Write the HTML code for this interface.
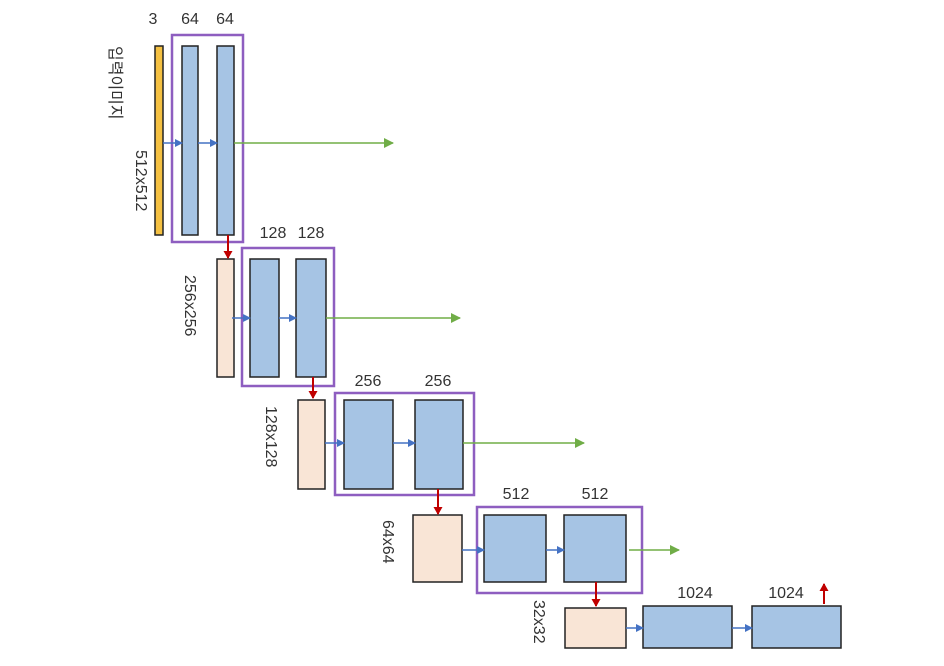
<!DOCTYPE html>
<html><head><meta charset="utf-8"><style>
html,body{margin:0;padding:0;background:#fff;width:944px;height:666px;overflow:hidden}
text{font-family:"Liberation Sans","Noto Sans CJK KR",sans-serif;font-size:16px;fill:#333}
</style></head><body>
<svg width="944" height="666" viewBox="0 0 944 666" xmlns="http://www.w3.org/2000/svg">
<defs>
<marker id="ab" markerWidth="8" markerHeight="8" refX="7" refY="4" orient="auto" markerUnits="userSpaceOnUse"><path d="M0,0L8,4L0,8z" fill="#4472c4"/></marker>
<marker id="ag" markerWidth="10" markerHeight="10" refX="9" refY="5" orient="auto" markerUnits="userSpaceOnUse"><path d="M0,0L10,5L0,10z" fill="#70ad47"/></marker>
<marker id="ar" markerWidth="8" markerHeight="9" refX="7" refY="4.5" orient="auto" markerUnits="userSpaceOnUse"><path d="M0,0L8,4.5L0,9z" fill="#c00000"/></marker>
</defs>
<g stroke="#222" stroke-width="1.5">
<rect x="155" y="46" width="8" height="189" fill="#f4c042"/>
<rect x="182" y="46" width="16" height="189" fill="#a6c4e4"/>
<rect x="217" y="46" width="17" height="189" fill="#a6c4e4"/>
<rect x="217" y="259" width="17" height="118" fill="#f9e5d6"/>
<rect x="250" y="259" width="29" height="118" fill="#a6c4e4"/>
<rect x="296" y="259" width="30" height="118" fill="#a6c4e4"/>
<rect x="298" y="400" width="27" height="89" fill="#f9e5d6"/>
<rect x="344" y="400" width="49" height="89" fill="#a6c4e4"/>
<rect x="415" y="400" width="48" height="89" fill="#a6c4e4"/>
<rect x="413" y="515" width="49" height="67" fill="#f9e5d6"/>
<rect x="484" y="515" width="62" height="67" fill="#a6c4e4"/>
<rect x="564" y="515" width="62" height="67" fill="#a6c4e4"/>
<rect x="565" y="608" width="61" height="40" fill="#f9e5d6"/>
<rect x="643" y="606" width="89" height="42" fill="#a6c4e4"/>
<rect x="752" y="606" width="89" height="42" fill="#a6c4e4"/>
</g>
<g fill="none" stroke="#8e5ec0" stroke-width="2.5">
<rect x="172" y="35" width="71" height="207"/>
<rect x="242" y="248" width="92" height="138"/>
<rect x="335" y="393" width="139" height="102"/>
<rect x="477" y="507" width="165" height="86"/>
</g>
<g stroke="#4472c4" stroke-width="1.5" marker-end="url(#ab)">
<line x1="163" y1="143" x2="182" y2="143"/>
<line x1="198" y1="143" x2="217" y2="143"/>
<line x1="232" y1="318" x2="250" y2="318"/>
<line x1="279" y1="318" x2="296" y2="318"/>
<line x1="325" y1="443" x2="344" y2="443"/>
<line x1="393" y1="443" x2="415" y2="443"/>
<line x1="462" y1="550" x2="484" y2="550"/>
<line x1="546" y1="550" x2="564" y2="550"/>
<line x1="626" y1="628" x2="643" y2="628"/>
<line x1="732" y1="628" x2="752" y2="628"/>
</g>
<g stroke="#70ad47" stroke-width="1.5" marker-end="url(#ag)">
<line x1="234" y1="143" x2="393" y2="143"/>
<line x1="326" y1="318" x2="460" y2="318"/>
<line x1="463" y1="443" x2="584" y2="443"/>
<line x1="629" y1="550" x2="679" y2="550"/>
</g>
<g stroke="#c00000" stroke-width="2" marker-end="url(#ar)">
<line x1="228" y1="235" x2="228" y2="258"/>
<line x1="313" y1="377" x2="313" y2="398"/>
<line x1="438" y1="489" x2="438" y2="514"/>
<line x1="596" y1="582" x2="596" y2="606"/>
<line x1="824" y1="604" x2="824" y2="584"/>
</g>
<g text-anchor="middle">
<text x="153" y="24">3</text>
<text x="190" y="24">64</text>
<text x="225" y="24">64</text>
<text x="273" y="238">128</text>
<text x="311" y="238">128</text>
<text x="368" y="386">256</text>
<text x="438" y="386">256</text>
<text x="516" y="499">512</text>
<text x="595" y="499">512</text>
<text x="695" y="598">1024</text>
<text x="786" y="598">1024</text>
</g>
<g text-anchor="start">
<text transform="translate(110,46) rotate(90)">입력이미지</text>
<text transform="translate(136,150) rotate(90)">512x512</text>
<text transform="translate(185,275) rotate(90)">256x256</text>
<text transform="translate(266,406) rotate(90)">128x128</text>
<text transform="translate(383,520) rotate(90)">64x64</text>
<text transform="translate(534,600) rotate(90)">32x32</text>
</g>
</svg>
</body></html>
